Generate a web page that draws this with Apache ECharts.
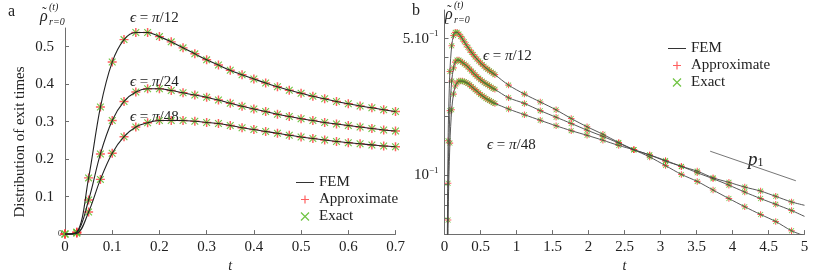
<!DOCTYPE html>
<html><head><meta charset="utf-8">
<script src="https://cdn.jsdelivr.net/npm/echarts@6/dist/echarts.min.js"></script>
<style>html,body{margin:0;padding:0;background:#fff}#c{width:817px;height:278px}</style>
</head><body><div id="c"></div>
<script>
// ---- data (panel a: t in [0,0.7]) ----
const tLeft = [0,0.025,0.05,0.075,0.1,0.125,0.15,0.175,0.2,0.225,0.25,0.275,0.3,0.325,0.35,0.375,0.4,0.425,0.45,0.475,0.5,0.525,0.55,0.575,0.6,0.625,0.65,0.675,0.7];
const eps12 = [0,0.005,0.150,0.339,0.459,0.519,0.538,0.538,0.527,0.513,0.497,0.481,0.465,0.451,0.437,0.425,0.414,0.403,0.393,0.384,0.376,0.368,0.361,0.354,0.348,0.342,0.337,0.332,0.327];
const eps24 = [0,0.005,0.091,0.214,0.303,0.354,0.379,0.388,0.388,0.383,0.377,0.371,0.365,0.358,0.349,0.341,0.334,0.327,0.320,0.314,0.308,0.303,0.298,0.294,0.290,0.286,0.282,0.278,0.275];
const eps48 = [0,0.002,0.059,0.146,0.216,0.260,0.286,0.297,0.303,0.303,0.303,0.301,0.298,0.295,0.290,0.284,0.279,0.274,0.269,0.264,0.259,0.255,0.251,0.247,0.244,0.241,0.238,0.235,0.233];
// ---- data (panel b tail: sparse samples up to t=5) ----
const tTail = [0.89,1.11,1.33,1.55,1.76,1.98,2.2,2.42,2.63,2.85,3.07,3.29,3.51,3.73,3.95,4.17,4.39,4.6,4.82];
const eps12Tail = [0.289,0.260,0.237,0.216,0.195,0.177,0.162,0.147,0.135,0.124,0.112,0.101,0.093,0.084,0.076,0.069,0.063,0.058,0.052];
const eps24Tail = [0.249,0.233,0.214,0.198,0.184,0.170,0.158,0.146,0.135,0.127,0.118,0.111,0.103,0.096,0.089,0.082,0.076,0.071,0.066];
const eps48Tail = [0.218,0.204,0.191,0.179,0.169,0.160,0.151,0.142,0.135,0.127,0.119,0.111,0.105,0.097,0.092,0.087,0.083,0.078,0.073];
const tEnd = 5;
const femEnd12 = 0.049, femEnd24 = 0.0616, femEnd48 = 0.0702;
const p1T = [3.69, 4.88];
const p1V = [0.1327, 0.0937];
// ---- tick labels ----
const yTicksA = [0,0.1,0.2,0.3,0.4,0.5];
const yTicksB = [0.05,0.06,0.07,0.08,0.09,0.1,0.2,0.3,0.4,0.5,0.6];
const yLabelsB = [0.1,0.5];

const FONT = 'Liberation Serif';
const AXC = '#6e6e6e';
const TXT = '#222';
const RED = 'rgba(255,55,55,0.8)';
const GREEN = 'rgba(95,190,45,0.9)';
const PLUS = 'path://M3.35,0h1.3v3.35h3.35v1.3h-3.35v3.35h-1.3v-3.35h-3.35v-1.3h3.35z';
const CROSS = 'path://M0.46,-0.46L8.46,7.54L7.54,8.46L-0.46,0.46ZM8.46,0.46L0.46,8.46L-0.46,7.54L7.54,-0.46Z';
const PAD = 'M0,0h.01v.01zM18,14h-.01v-.01z';
const legendData = [
  {name:'FEM', icon:'path://'+PAD+'M0,6.4h18v1.1h-18z'},
  {name:'Approximate', icon:'path://'+PAD+'M8.4,3h1.2v3.4h3.4v1.2h-3.4v3.4h-1.2v-3.4h-3.4v-1.2h3.4z'},
  {name:'Exact', icon:'path://'+PAD+'M5.424,2.576L13.424,10.576L12.576,11.424L4.576,3.424ZM13.424,3.424L5.424,11.424L4.576,10.576L12.576,2.576Z'}
];

const pairs = (xs, ys) => xs.map((x,i) => [x, ys[i]]);
const fmt = v => String(+(+v).toFixed(2));

const series = [];
const curvesA = [eps12, eps24, eps48];
curvesA.forEach(c => {
  series.push({type:'scatter', name:'Approximate', xAxisIndex:0, yAxisIndex:0, symbol:PLUS, symbolSize:9, itemStyle:{color:RED, opacity:1}, data:pairs(tLeft,c), silent:true});
});
curvesA.forEach(c => {
  series.push({type:'scatter', name:'Exact', xAxisIndex:0, yAxisIndex:0, symbol:CROSS, symbolSize:7.5, itemStyle:{color:GREEN, opacity:1}, data:pairs(tLeft,c), silent:true});
});
curvesA.forEach(c => {
  series.push({type:'line', name:'FEM', xAxisIndex:0, yAxisIndex:0, symbol:'none', smooth:0.35, color:'#333', itemStyle:{color:'#333'}, lineStyle:{color:'#222', width:1.1}, data:pairs(tLeft,c), silent:true});
});
const curvesB = [[eps12,eps12Tail,femEnd12],[eps24,eps24Tail,femEnd24],[eps48,eps48Tail,femEnd48]];
curvesB.forEach(([d,tail]) => {
  series.push({type:'scatter', name:'Approximate', xAxisIndex:1, yAxisIndex:1, symbol:PLUS, symbolSize:6.5, itemStyle:{color:RED, opacity:1}, data:pairs(tLeft.slice(1),d.slice(1)).concat(pairs(tTail,tail)), silent:true});
});
curvesB.forEach(([d,tail]) => {
  series.push({type:'scatter', name:'Exact', xAxisIndex:1, yAxisIndex:1, symbol:CROSS, symbolSize:5.5, itemStyle:{color:GREEN, opacity:1}, data:pairs(tLeft.slice(1),d.slice(1)).concat(pairs(tTail,tail)), silent:true});
});
curvesB.forEach(([d,tail,end]) => {
  series.push({type:'line', name:'FEM', xAxisIndex:1, yAxisIndex:1, symbol:'none', smooth:0.3, color:'#333', itemStyle:{color:'#333'}, lineStyle:{color:'#444', width:0.9}, data:pairs(tLeft.slice(1),d.slice(1)).concat(pairs(tTail,tail)).concat([[tEnd,end]]), silent:true});
});
series.push({type:'line', name:'p1', xAxisIndex:1, yAxisIndex:1, symbol:'none', lineStyle:{color:'#666', width:0.9}, data:pairs(p1T,p1V), silent:true});

const axisBase = {
  axisLine:{lineStyle:{color:AXC, width:1}},
  axisTick:{inside:true, length:4, lineStyle:{color:AXC}},
  splitLine:{show:false}
};
const lbl = {color:TXT, fontFamily:FONT, fontSize:15};
const nameStyle = {color:TXT, fontFamily:FONT, fontStyle:'italic', fontSize:14};

function mathText(x, y, eps) {
  return {type:'text', x:x, y:y, style:{
    text:'{i|\u03f5} = {i|\u03c0}/' + eps, fill:TXT, font:'15px '+FONT, verticalAlign:'middle',
    rich:{i:{fontStyle:'italic', fontSize:15, fontFamily:FONT, fill:TXT}}
  }};
}
function rhoLabel(x, y) {
  return [
    {type:'text', x:x, y:y, style:{text:'\u03c1', font:'italic 16px '+FONT, fill:TXT}},
    {type:'text', x:x+2, y:y-3, style:{text:'\u02dc', font:'14px '+FONT, fill:TXT}},
    {type:'text', x:x+9, y:y-7, style:{text:'(t)', font:'italic 10px '+FONT, fill:TXT}},
    {type:'text', x:x+9, y:y+8, style:{text:'r=0', font:'italic 10px '+FONT, fill:TXT}}
  ];
}

const legendCommon = {orient:'vertical', padding:0, itemWidth:18, itemHeight:14, itemGap:2, selectedMode:false,
  textStyle:{fontFamily:FONT, fontSize:15, color:TXT, lineHeight:14}, data:legendData};

const option = {
  animation:false,
  backgroundColor:'#fff',
  grid:[
    {left:65, top:28, width:330.5, height:217},
    {left:444.5, top:10, width:360, height:235}
  ],
  legend:[
    Object.assign({left:296, top:175}, legendCommon),
    Object.assign({left:668, top:41}, legendCommon)
  ],
  xAxis:[
    Object.assign({gridIndex:0, type:'value', min:0, max:0.7, interval:0.1,
      axisLabel:Object.assign({margin:5, formatter:fmt}, lbl),
      name:'t', nameLocation:'middle', nameGap:18, nameTextStyle:nameStyle}, axisBase),
    Object.assign({gridIndex:1, type:'value', min:0, max:5, interval:0.5,
      axisLabel:Object.assign({margin:5, formatter:fmt}, lbl),
      name:'t', nameLocation:'middle', nameGap:18, nameTextStyle:nameStyle}, axisBase)
  ],
  yAxis:[
    Object.assign({gridIndex:0, type:'value', min:0, max:0.55, interval:0.1,
      axisLabel:{margin:3, customValues:yTicksA,
        formatter: v => v < 1e-9 ? '{s|0}' : (v > 0.51 ? '' : '{n|' + (+v).toFixed(1) + '}'),
        rich:{s:{fontSize:8, fontFamily:FONT, color:TXT}, n:{fontSize:15, fontFamily:FONT, color:TXT, padding:[0,8,0,0]}}}
      }, axisBase,
      {axisTick:{inside:true, length:4, lineStyle:{color:AXC}, customValues:yTicksA}}),
    Object.assign({gridIndex:1, type:'log', logBase:10, min:0.05, max:0.7,
      axisLabel:{margin:6, customValues:yLabelsB,
        formatter: v => Math.abs(v-0.5) < 1e-6 ? '{b|5.10}{sup|\u22121}' : (Math.abs(v-0.1) < 1e-6 ? '{b|10}{sup|\u22121}' : ''),
        rich:{b:{fontSize:15, fontFamily:FONT, color:TXT, lineHeight:18}, sup:{fontSize:9, fontFamily:FONT, color:TXT, lineHeight:9, verticalAlign:'top'}}}
      }, axisBase,
      {axisTick:{inside:true, length:4, lineStyle:{color:AXC}, customValues:yTicksB}})
  ],
  graphic:[
    {type:'text', x:8, y:4, style:{text:'a', font:'16px '+FONT, fill:TXT}},
    {type:'text', x:412, y:3, style:{text:'b', font:'16px '+FONT, fill:TXT}},
    {type:'text', x:20, y:142, rotation:Math.PI/2, style:{text:'Distribution of exit times', font:'15px '+FONT, fill:TXT, align:'center', verticalAlign:'middle'}},
    ...rhoLabel(40, 9),
    ...rhoLabel(445, 7),
    mathText(130, 18, '12'),
    mathText(130, 82, '24'),
    mathText(130, 117, '48'),
    mathText(483, 56, '12'),
    mathText(487, 145, '48'),
    {type:'text', x:748, y:150, style:{text:'{p|p}{s|1}', fill:TXT,
      rich:{p:{font:'italic 19px '+FONT, fill:TXT, lineHeight:20}, s:{font:'12px '+FONT, fill:TXT, lineHeight:20, padding:[6,0,0,0]}}}}
  ],
  series:series
};
const chart = echarts.init(document.getElementById('c'), null, {renderer:'canvas'});
chart.setOption(option);
</script>
</body></html>
